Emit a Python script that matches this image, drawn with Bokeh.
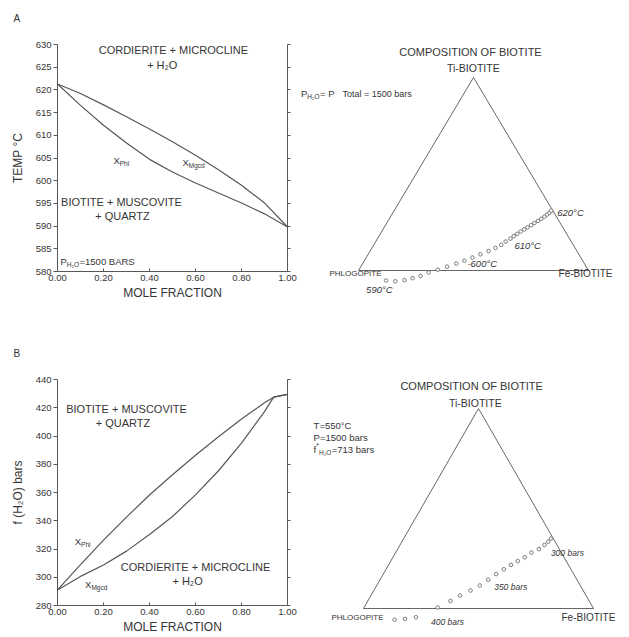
from bokeh.plotting import figure
from bokeh.models import (LinearAxis, FixedTicker, Label, Range1d, NumeralTickFormatter,
                          CustomJSTickFormatter)
from bokeh.layouts import column, row
from bokeh.embed import file_html
from bokeh.resources import INLINE

# ---------------- data ----------------
# Panel A : T - X section, P(H2O) = 1500 bars
mole_fraction_a = [0.0, 0.1, 0.2, 0.3, 0.4, 0.5, 0.6, 0.7, 0.8, 0.9, 1.0]
temp_x_mgcd = [621.3, 619.2, 616.7, 614.1, 611.4, 608.6, 605.6, 602.4, 599.0, 595.1, 589.8]
temp_x_phl = [621.3, 616.6, 612.2, 608.3, 604.7, 601.9, 599.5, 597.3, 595.1, 592.7, 589.8]
temp_ticks = [580, 585, 590, 595, 600, 605, 610, 615, 620, 625, 630]
fraction_ticks = [0.0, 0.2, 0.4, 0.6, 0.8, 1.0]

# Panel B : f(H2O) - X section, T = 550 C
mole_fraction_b = [0.0, 0.1, 0.2, 0.3, 0.4, 0.5, 0.6, 0.7, 0.8, 0.9, 0.94, 1.0]
fh2o_x_phl = [291.0, 309.0, 326.3, 342.6, 358.2, 372.6, 386.4, 399.5, 412.0, 423.5, 427.5, 429.5]
fh2o_x_mgcd = [291.0, 300.6, 308.7, 318.5, 330.2, 343.0, 358.3, 375.4, 395.0, 417.3, 427.5, 429.5]
fh2o_ticks = [280, 300, 320, 340, 360, 380, 400, 420, 440]

# ternary corners (X_Ti, X_Fe): phlogopite, Fe-biotite, Ti-biotite
corner_ti = [0.0, 0.0, 1.0]
corner_fe = [0.0, 1.0, 0.0]

# biotite compositions, panel A (590 C -> 620 C)
biotite_a_ti = [-0.052, -0.056, -0.050, -0.040, -0.028, -0.010, 0.004, 0.020, 0.036, 0.051,
                0.067, 0.084, 0.101, 0.117, 0.133, 0.150, 0.165, 0.178, 0.190, 0.202,
                0.213, 0.224, 0.235, 0.246, 0.257, 0.268, 0.279, 0.290, 0.300, 0.310]
biotite_a_fe = [0.146, 0.188, 0.225, 0.255, 0.284, 0.310, 0.343, 0.375, 0.407, 0.435,
                0.462, 0.488, 0.515, 0.537, 0.554, 0.565, 0.578, 0.586, 0.595, 0.604,
                0.614, 0.623, 0.633, 0.642, 0.652, 0.661, 0.669, 0.675, 0.680, 0.683]
temp_labels_a = ["590°C", "-600°C", "610°C", "620°C"]
temp_label_point_a = [0, 9, 16, 29]

# biotite compositions, panel B (400 bars -> 300 bars)
biotite_b_ti = [-0.056, -0.052, -0.044, 0.005, 0.038, 0.065, 0.090, 0.115, 0.144, 0.172,
                0.196, 0.218, 0.237, 0.256, 0.280, 0.297, 0.318, 0.334, 0.350]
biotite_b_fe = [0.163, 0.206, 0.250, 0.320, 0.359, 0.387, 0.420, 0.448, 0.470, 0.491,
                0.512, 0.532, 0.552, 0.573, 0.590, 0.614, 0.628, 0.636, 0.640]
fh2o_labels_b = ["400 bars", "350 bars", "300 bars"]
fh2o_label_point_b = [2, 8, 15]

# ---------------- style ----------------
FONT = "Liberation Sans"
TXT = "#353535"
LINE = "#575757"
W = {" ": .278, "=": .584, "+": .584, ".": .278, "°": .4, "-": .333, "*": .389,
     "(": .333, ")": .333, "₂": .45,
     "A": .667, "B": .667, "C": .722, "D": .722, "E": .667, "F": .611, "G": .778,
     "H": .722, "I": .278, "L": .556, "M": .833, "N": .722, "O": .778, "P": .667,
     "Q": .778, "R": .722, "S": .667, "T": .611, "U": .722, "V": .667, "X": .667, "Z": .611,
     "a": .556, "b": .556, "c": .5, "d": .556, "e": .556, "f": .278, "g": .556, "h": .556,
     "i": .222, "l": .222, "o": .556, "r": .333, "s": .5, "t": .278}


def tw(s, size):
    return sum(W.get(c, .556) for c in s) * size


def rich(p, x, y, pieces, center=False, xoff=0, yoff=0):
    total = sum(tw(t, s) for t, s, _, _ in pieces)
    dx = xoff - (total / 2 if center else 0)
    for t, s, dy, style in pieces:
        p.add_layout(Label(x=x, y=y, text=t, text_font=FONT, text_font_size=f"{s}px",
                           text_font_style=style, text_color=TXT, text_align="left",
                           text_baseline="middle", x_offset=dx, y_offset=yoff + dy))
        dx += tw(t, s)


def left_panel(height, top, bottom, y0, y1, yticks, ylabel, tag, standoff):
    p = figure(width=300, height=height, x_range=Range1d(0, 1), y_range=Range1d(y0, y1),
               output_backend="svg", toolbar_location=None,
               min_border_left=57, min_border_right=13,
               min_border_top=top, min_border_bottom=bottom)
    p.grid.visible = False
    p.outline_line_color = None
    p.title.text = tag
    p.title.align = "left"
    p.title.offset = -44
    p.title.standoff = standoff
    p.title.vertical_align = "bottom"
    p.title.text_font = FONT
    p.title.text_font_size = "10px"
    p.title.text_font_style = "normal"
    p.title.text_color = TXT
    xa, ya = p.xaxis[0], p.yaxis[0]
    xa.ticker = FixedTicker(ticks=fraction_ticks)
    xa.formatter = NumeralTickFormatter(format="0.00")
    xa.major_tick_in, xa.major_tick_out = 3, 0
    xa.axis_label = "MOLE FRACTION"
    xa.axis_label_standoff = 2
    xa.major_label_standoff = 3
    ya.ticker = FixedTicker(ticks=yticks)
    ya.major_tick_in, ya.major_tick_out = 0, 4
    ya.major_label_standoff = 2
    ya.axis_label = ylabel
    ya.axis_label_standoff = 8
    for ax in (xa, ya):
        ax.minor_tick_line_color = None
        ax.axis_line_color = LINE
        ax.major_tick_line_color = LINE
        ax.major_label_text_font = FONT
        ax.major_label_text_font_size = "9.5px"
        ax.major_label_text_color = TXT
        ax.axis_label_text_font = FONT
        ax.axis_label_text_font_size = "12px"
        ax.axis_label_text_font_style = "normal"
        ax.axis_label_text_color = TXT
    ra = LinearAxis(ticker=FixedTicker(ticks=yticks),
                    formatter=CustomJSTickFormatter(code="return ''"),
                    major_tick_in=0, major_tick_out=3, minor_tick_line_color=None,
                    axis_line_color=LINE, major_tick_line_color=LINE, major_label_standoff=0)
    p.add_layout(ra, "right")
    return p


def tri_panel(height, x0, x1, y0, y1):
    p = figure(width=327, height=height, x_range=Range1d(x0, x1), y_range=Range1d(y0, y1),
               output_backend="svg", toolbar_location=None, x_axis_type=None, y_axis_type=None,
               min_border_left=0, min_border_right=0, min_border_top=0, min_border_bottom=0)
    p.grid.visible = False
    p.outline_line_color = None
    tu = [fe + ti / 2 for ti, fe in zip(corner_ti, corner_fe)]
    tv = list(corner_ti)
    p.line(tu + tu[:1], tv + tv[:1], line_color="#666666", line_width=1)
    return p


def tri_points(p, ti, fe):
    u = [f + t / 2 for t, f in zip(ti, fe)]
    p.scatter(u, ti, marker="circle", size=3.6, fill_color="white",
              line_color="#6e6e6e", line_width=0.9)
    return u


# ---------------- panel A ----------------
a1 = left_panel(318, 44, 47, 580, 630, temp_ticks, "TEMP °C", "A\n ", 20)
a1.line(mole_fraction_a, temp_x_mgcd, line_color=LINE, line_width=1.2)
a1.line(mole_fraction_a, temp_x_phl, line_color=LINE, line_width=1.2)
rich(a1, 0.504, 628.7, [("CORDIERITE + MICROCLINE", 11, 0, "normal")], center=True)
rich(a1, 0.457, 625.4, [("+ H₂O", 11, 0, "normal")], center=True)
rich(a1, 0.278, 595.2, [("BIOTITE + MUSCOVITE", 11, 0, "normal")], center=True)
rich(a1, 0.283, 592.3, [("+ QUARTZ", 11, 0, "normal")], center=True)
rich(a1, 0.013, 582.2, [("P", 9.5, 0, "normal"), ("H₂O", 6.5, -3, "normal"),
                        ("=1500 BARS", 9.5, 0, "normal")])
rich(a1, 0.243, 604.4, [("X", 9.5, 0, "normal"), ("Phl", 6.5, -3, "normal")])
rich(a1, 0.543, 604.0, [("X", 9.5, 0, "normal"), ("Mgcd", 6.5, -3, "normal")])

a2 = tri_panel(318, -0.2522, 1.1696, -0.2487, 1.399)
ua = tri_points(a2, biotite_a_ti, biotite_a_fe)
rich(a2, 0.487, 1.13, [("COMPOSITION OF BIOTITE", 11, 0, "normal")], center=True)
rich(a2, 0.5, 1.047, [("Ti-BIOTITE", 10.5, 0, "normal")], center=True)
rich(a2, -0.013, -0.016, [("PHLOGOPITE", 8, 0, "normal")], center=True)
rich(a2, 0.987, -0.016, [("Fe-BIOTITE", 10, 0, "normal")], center=True)
rich(a2, -0.25, 0.917, [("P", 9.5, 0, "normal"), ("H₂O", 6.5, -3, "normal"),
                        ("= P   ", 9.5, 0, "normal"), ("Total = 1500 bars", 9, 0, "normal")])
a_offsets = [(-20, -9), (3, -3), (4, -7), (6, -2)]
for lab, idx, (dx, dy) in zip(temp_labels_a, temp_label_point_a, a_offsets):
    rich(a2, ua[idx], biotite_a_ti[idx], [(lab, 9.5, 0, "italic")], xoff=dx, yoff=dy)

# ---------------- panel B ----------------
b1 = left_panel(318, 61, 31, 280, 440, fh2o_ticks, "f (H₂O) bars", "B", 42)
b1.line(mole_fraction_b, fh2o_x_phl, line_color=LINE, line_width=1.2)
b1.line(mole_fraction_b, fh2o_x_mgcd, line_color=LINE, line_width=1.2)
rich(b1, 0.30, 419.0, [("BIOTITE + MUSCOVITE", 11, 0, "normal")], center=True)
rich(b1, 0.285, 409.5, [("+ QUARTZ", 11, 0, "normal")], center=True)
rich(b1, 0.60, 307.0, [("CORDIERITE + MICROCLINE", 11, 0, "normal")], center=True)
rich(b1, 0.567, 297.0, [("+ H₂O", 11, 0, "normal")], center=True)
rich(b1, 0.075, 325.0, [("X", 9.5, 0, "normal"), ("Phl", 6.5, -3, "normal")])
rich(b1, 0.12, 295.0, [("X", 9.5, 0, "normal"), ("Mgcd", 6.5, -3, "normal")])

b2 = tri_panel(318, -0.2739, 1.1478, -0.14, 1.45)
ub = tri_points(b2, biotite_b_ti, biotite_b_fe)
rich(b2, 0.47, 1.115, [("COMPOSITION OF BIOTITE", 11, 0, "normal")], center=True)
rich(b2, 0.487, 1.03, [("Ti-BIOTITE", 10.5, 0, "normal")], center=True)
rich(b2, -0.026, -0.045, [("PHLOGOPITE", 8, 0, "normal")], center=True)
rich(b2, 0.978, -0.045, [("Fe-BIOTITE", 10, 0, "normal")], center=True)
rich(b2, -0.217, 0.915, [("T=550°C", 9.5, 0, "normal")])
rich(b2, -0.217, 0.855, [("P=1500 bars", 9.5, 0, "normal")])
rich(b2, -0.217, 0.795, [("f", 9.5, 0, "normal"), ("*", 7, 4, "normal"),
                         ("H₂O", 6.5, -3, "normal"), ("=713 bars", 9.5, 0, "normal")])
b_offsets = [(15, -5), (6, -7), (12, -4)]
for lab, idx, (dx, dy) in zip(fh2o_labels_b, fh2o_label_point_b, b_offsets):
    rich(b2, ub[idx], biotite_b_ti[idx], [(lab, 8.5, 0, "italic")], xoff=dx, yoff=dy)

layout = row(column(a1, b1), column(a2, b2))
open("out.html", "w").write(file_html(layout, INLINE))
